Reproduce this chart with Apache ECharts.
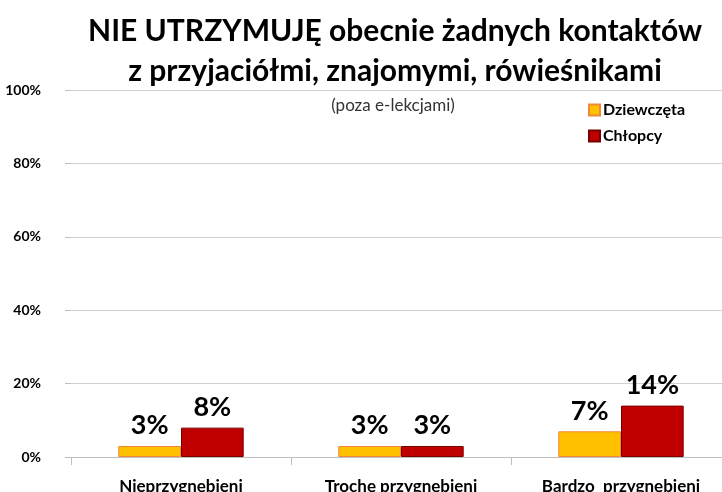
<!DOCTYPE html>
<html>
<head>
<meta charset="utf-8">
<script src="https://cdn.jsdelivr.net/npm/echarts@6/dist/echarts.min.js"></script>
<style>
  html, body { margin: 0; padding: 0; background: #fff; }
  #chart { width: 722px; height: 492px; }
</style>
</head>
<body>
<div id="chart"></div>
<script>
// dane wykresu
const categories = ['Nieprzygnębieni', 'Trochę przygnębieni', 'Bardzo  przygnębieni']
const dziewczeta = [3, 3, 7]
const chlopcy = [8, 3, 14]
const yTicks = [0, 20, 40, 60, 80, 100]

const font = 'Lato, "Open Sans", sans-serif'

const chart = echarts.init(document.getElementById('chart'))

const labelStyle = {
    show: true,
    position: 'top',
    distance: 7,
    formatter: p => p.value + '%',
    fontFamily: font,
    fontWeight: 'bold',
    fontSize: 27,
    color: '#000'
}

chart.setOption({
    animation: false,
    textStyle: { fontFamily: font },
    title: [
        {
            text: 'NIE UTRZYMUJĘ obecnie żadnych kontaktów\nz przyjaciółmi, znajomymi, rówieśnikami',
            left: 390,
            top: 6,
            textAlign: 'center',
            textStyle: {
                fontFamily: font,
                fontWeight: 'bold',
                fontSize: 30,
                lineHeight: 40,
                color: '#000'
            }
        },
        {
            text: '(poza e-lekcjami)',
            left: 388,
            top: 92,
            textAlign: 'center',
            textStyle: {
                fontFamily: font,
                fontWeight: 'normal',
                fontSize: 17,
                color: '#333'
            }
        }
    ],
    legend: {
        orient: 'vertical',
        left: 583,
        top: 97,
        itemWidth: 11,
        itemHeight: 11,
        itemGap: 10,
        icon: 'rect',
        textStyle: {
            fontFamily: font,
            fontWeight: 'bold',
            fontSize: 16,
            padding: [0, 0, 0, -2],
            color: '#000'
        },
        data: ['Dziewczęta', 'Chłopcy']
    },
    grid: {
        left: 71,
        width: 660,
        top: 90,
        bottom: 35,
        containLabel: false,
        outerBoundsMode: 'none'
    },
    xAxis: {
        type: 'category',
        data: categories,
        axisLine: { lineStyle: { color: '#bfbfbf', width: 1 } },
        axisTick: { show: true, length: 8, lineStyle: { color: '#bfbfbf' } },
        axisLabel: {
            interval: 0,
            margin: 21,
            fontFamily: font,
            fontWeight: 'bold',
            fontSize: 17,
            color: '#000'
        }
    },
    yAxis: {
        type: 'value',
        min: yTicks[0],
        max: yTicks[yTicks.length - 1],
        interval: 20,
        axisLine: { show: false },
        axisTick: { show: true, length: 6, lineStyle: { color: '#bfbfbf' } },
        splitLine: { lineStyle: { color: '#d0d0d0', width: 1 } },
        axisLabel: {
            margin: 30,
            formatter: v => v + '%',
            fontFamily: font,
            fontWeight: 'bold',
            fontSize: 14,
            color: '#000'
        }
    },
    series: [
        {
            name: 'Dziewczęta',
            type: 'bar',
            data: dziewczeta,
            barGap: '0%',
            barCategoryGap: '43%',
            itemStyle: { color: '#FFC000', borderColor: '#F0883A', borderWidth: 1 },
            label: labelStyle
        },
        {
            name: 'Chłopcy',
            type: 'bar',
            data: chlopcy,
            itemStyle: { color: '#C00000', borderColor: '#7a0000', borderWidth: 1 },
            label: labelStyle
        }
    ]
})
</script>
</body>
</html>
